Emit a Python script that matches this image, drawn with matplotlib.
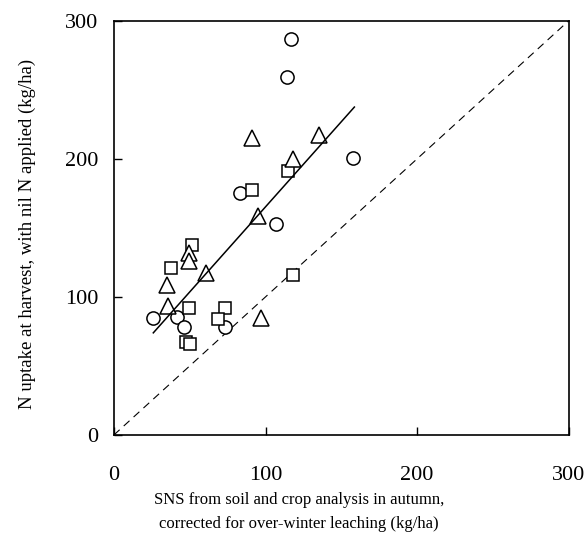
import numpy as np
import matplotlib.pyplot as plt

# SNS (x) and crop N uptake (y), kg N/ha, three groups of sites
circ_x = [116.8, 114.4, 83.2, 106.7, 158.0, 25.5, 41.4, 46.4, 73.3]
circ_y = [286.7, 259.2, 175.1, 152.9, 200.5, 85.0, 85.7, 78.5, 78.5]

tri_x = [90.9, 135.3, 118.4, 95.3, 49.7, 49.7, 60.7, 34.8, 35.4, 96.8]
tri_y = [215.0, 217.4, 199.8, 158.7, 131.7, 126.3, 117.6, 108.7, 93.5, 85.0]

sq_x = [115.1, 90.9, 51.3, 37.6, 118.0, 49.5, 73.3, 68.4, 47.3, 50.2]
sq_y = [191.3, 177.5, 137.7, 121.2, 116.0, 92.2, 92.2, 84.0, 67.6, 65.7]

# fitted regression line and its x range
fit_slope = 1.233
fit_icept = 41.9
fit_range = [26.0, 158.6]

ticks = [0, 100, 200, 300]

plt.rcParams['font.family'] = ['Liberation Serif', 'DejaVu Serif']

fig = plt.figure(figsize=(5.87, 5.44), dpi=100)
ax = fig.add_axes([0.194, 0.2004, 0.775, 0.7616])

mk = dict(linestyle='none', markerfacecolor='white', markeredgecolor='black',
          markeredgewidth=1.1, zorder=3)
ax.plot(circ_x, circ_y, marker='o', markersize=9.5, **mk)
ax.plot(sq_x, sq_y, marker='s', markersize=9.0, **mk)
ax.plot(tri_x, tri_y, marker='^', markersize=11, **mk)

# 1:1 line
ax.plot([0, 300], [0, 300], color='black', linestyle=(0, (7, 5)), linewidth=0.8)

fx = np.array(fit_range)
ax.plot(fx, fit_slope * fx + fit_icept, color='black', linewidth=1.1, zorder=4)

ax.set_xlim(0, 300)
ax.set_ylim(0, 300)
ax.set_xticks(ticks)
ax.set_yticks(ticks)
ax.tick_params(direction='in', length=6, width=1, labelsize=16)
ax.tick_params(axis='x', pad=22)
ax.tick_params(axis='y', pad=11)
for s in ax.spines.values():
    s.set_linewidth(1.2)

ax.set_xlabel('SNS from soil and crop analysis in autumn,\ncorrected for over-winter leaching (kg/ha)',
              fontsize=12, linespacing=1.6, va='center')
ax.xaxis.set_label_coords(0.4066, -0.186)
ax.set_ylabel('N uptake at harvest, with nil N applied (kg/ha)', fontsize=13.5, va='center')
ax.yaxis.set_label_coords(-0.19, 0.485)

fig.savefig('out.png', dpi=100)
